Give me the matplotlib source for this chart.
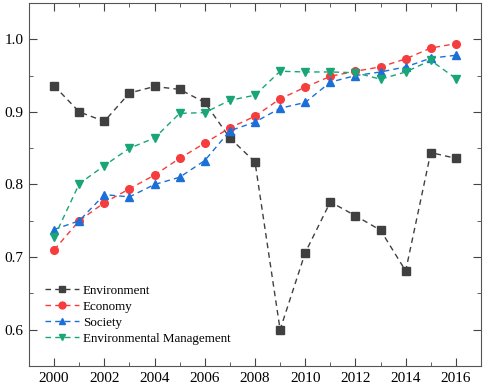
import matplotlib.pyplot as plt

plt.rcParams['font.family'] = ['Liberation Serif', 'DejaVu Serif']

years = list(range(2000, 2017))
environment = [0.936, 0.900, 0.887, 0.926, 0.935, 0.931, 0.913, 0.864, 0.831,
               0.600, 0.706, 0.776, 0.757, 0.737, 0.681, 0.844, 0.836]
economy = [0.710, 0.750, 0.775, 0.794, 0.813, 0.836, 0.857, 0.878, 0.894,
           0.918, 0.934, 0.949, 0.956, 0.962, 0.973, 0.988, 0.994]
society = [0.738, 0.750, 0.786, 0.783, 0.800, 0.810, 0.833, 0.874, 0.886,
           0.905, 0.913, 0.941, 0.950, 0.955, 0.962, 0.974, 0.978]
env_mgmt = [0.727, 0.801, 0.826, 0.850, 0.864, 0.898, 0.899, 0.916, 0.923,
            0.956, 0.955, 0.955, 0.954, 0.945, 0.955, 0.971, 0.946]

series = [
    ("Environment", environment, "#404040", "s"),
    ("Economy", economy, "#f63c3c", "o"),
    ("Society", society, "#1a6fd8", "^"),
    ("Environmental Management", env_mgmt, "#18a578", "v"),
]

fig = plt.figure(figsize=(4.84, 3.89), dpi=100)
ax = fig.add_axes([29 / 484, 23 / 389, 452 / 484, 363 / 389])

for name, vals, col, mk in series:
    ax.plot(years, vals, linestyle=(0, (4, 3)), color=col, lw=1.0,
            marker=mk, markersize=5.5, label=name)

ax.set_xlim(1999, 2017)
ax.set_ylim(0.55, 1.05)
ax.set_xticks(range(2000, 2017, 2))
ax.set_xticks(range(2001, 2017, 2), minor=True)
ax.set_yticks([0.6, 0.7, 0.8, 0.9, 1.0])
ax.set_yticks([0.65, 0.75, 0.85, 0.95], minor=True)
ax.tick_params(which='both', direction='in', top=True, right=True, labelsize=11,
               color='#444444')
ax.tick_params(which='major', length=6, pad=4)
ax.tick_params(which='minor', length=3)
ax.yaxis.set_major_formatter(plt.FormatStrFormatter('%.1f'))
for sp in ax.spines.values():
    sp.set_color('#555555')

ax.legend(loc='lower left', bbox_to_anchor=(0.035, 0.058), frameon=False,
          fontsize=9.4, handlelength=2.6, labelspacing=0.3, handletextpad=0.3,
          borderaxespad=0, borderpad=0, markerscale=0.9)

fig.savefig("out.png", dpi=100)
